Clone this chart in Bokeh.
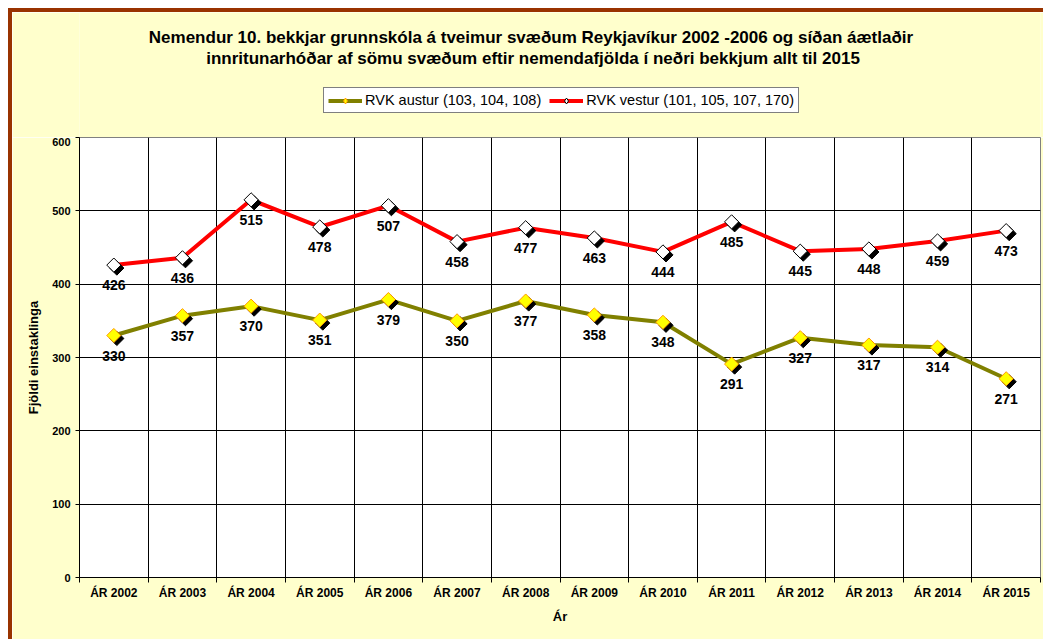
import numpy as np
from bokeh.plotting import figure
from bokeh.layouts import column
from bokeh.models import (Range1d, FixedTicker, Legend, LegendItem, Label,
                          ColumnDataSource)
from bokeh.transform import dodge
from bokeh.core.properties import value
from bokeh.embed import file_html
from bokeh.resources import INLINE

# ---------------- data ----------------
years = ["ÁR 2002", "ÁR 2003", "ÁR 2004", "ÁR 2005", "ÁR 2006", "ÁR 2007",
         "ÁR 2008", "ÁR 2009", "ÁR 2010", "ÁR 2011", "ÁR 2012", "ÁR 2013",
         "ÁR 2014", "ÁR 2015"]
austur = [330, 357, 370, 351, 379, 350, 377, 358, 348, 291, 327, 317, 314, 271]
vestur = [426, 436, 515, 478, 507, 458, 477, 463, 444, 485, 445, 448, 459, 473]
series_names = ["RVK austur (103, 104, 108)", "RVK vestur (101, 105, 107, 170)"]
y_ticks = [0, 100, 200, 300, 400, 500, 600]
title_lines = [
    "Nemendur 10. bekkjar grunnskóla á tveimur svæðum Reykjavíkur 2002 -2006 og síðan áætlaðir",
    "innritunarhóðar af sömu svæðum eftir nemendafjölda í neðri bekkjum allt til 2015",
]
x_title = "Ár"
y_title = "Fjöldi einstaklinga"

FONT = "Liberation Sans"
BG = "#FFFFCC"
A_LINE, A_FILL, A_EDGE = "#808000", "#FFFF00", "#FF9900"
V_LINE, V_FILL, V_EDGE = "#FF0000", "white", "black"

n = len(years)
xs = np.arange(n) + 0.5
bounds = list(range(n + 1))

src = ColumnDataSource(dict(
    x=xs, a=austur, v=vestur,
    a_lbl=[str(v) for v in austur], v_lbl=[str(v) for v in vestur],
))

W = 1031
TOP_H = 125
MAIN_H = 502

# ---------------- header figure: titles + legend ----------------
# (in a column its frame is aligned with the main chart's frame)
top = figure(width=W, height=TOP_H, x_range=Range1d(0, 1), y_range=Range1d(0, 1),
             output_backend="svg", toolbar_location=None, title=None,
             x_axis_location=None, y_axis_location=None,
             min_border_left=67, min_border_right=3, min_border_top=0,
             min_border_bottom=0)
top.grid.visible = False
top.outline_line_color = None
top.background_fill_color = BG
top.border_fill_color = BG

for txt, cx, cy in ((title_lines[0], 451.5, 100), (title_lines[1], 453.5, 79)):
    top.add_layout(Label(x=cx, y=cy, x_units="screen", y_units="screen", text=txt,
                         text_font=FONT, text_font_style="bold",
                         text_font_size="17px", text_color="black",
                         text_align="center", text_baseline="middle"))

# legend proxies: one data point each, outside this header's visible range
proxy = ColumnDataSource(dict(x=[xs[0]], a=[austur[0]], v=[vestur[0]]))
lga = top.line("x", "a", source=proxy, line_color=A_LINE, line_width=4)
lgam = top.scatter("x", "a", source=proxy, marker="diamond", size=14,
                   fill_color=A_FILL, line_color=A_EDGE)
lgv = top.line("x", "v", source=proxy, line_color=V_LINE, line_width=4)
lgvm = top.scatter("x", "v", source=proxy, marker="diamond", size=14,
                   fill_color=V_FILL, line_color=V_EDGE)
legend = Legend(items=[LegendItem(label=series_names[0], renderers=[lga, lgam]),
                       LegendItem(label=series_names[1], renderers=[lgv, lgvm])],
                orientation="horizontal", location=(244, 24),
                label_text_font=FONT, label_text_font_size="14.5px",
                label_text_color="black",
                glyph_width=34, glyph_height=15, label_height=15,
                label_standoff=3, spacing=8, padding=4, margin=0,
                border_line_color="black", border_line_width=1,
                background_fill_color="white", background_fill_alpha=1.0)
top.add_layout(legend, "center")

# ---------------- main chart ----------------
p = figure(width=W, height=MAIN_H, x_range=Range1d(0, n),
           y_range=Range1d(y_ticks[0], y_ticks[-1]),
           output_backend="svg", toolbar_location=None, title=None,
           min_border_left=67, min_border_right=3, min_border_top=0,
           min_border_bottom=62)
p.background_fill_color = "white"
p.border_fill_color = BG
p.outline_line_color = "#808080"

p.xgrid.grid_line_color = None
p.xgrid.minor_grid_line_color = "black"
p.ygrid.grid_line_color = "black"

xa = p.xaxis[0]
xa.ticker = FixedTicker(ticks=list(xs), minor_ticks=bounds)
xa.major_label_overrides = {float(x): yr for x, yr in zip(xs, years)}
xa.major_tick_line_color = None
xa.major_tick_out = 4
xa.minor_tick_in = 0
xa.minor_tick_out = 5
xa.minor_tick_line_color = "black"
xa.major_label_standoff = 3
xa.major_label_text_font = FONT
xa.major_label_text_font_style = "bold"
xa.major_label_text_font_size = "12px"
xa.major_label_text_color = "black"
xa.axis_line_color = "black"
xa.axis_label = x_title
xa.axis_label_text_font = FONT
xa.axis_label_text_font_style = "bold"
xa.axis_label_text_font_size = "13px"
xa.axis_label_text_color = "black"
xa.axis_label_standoff = 6

ya = p.yaxis[0]
ya.ticker = FixedTicker(ticks=y_ticks)
ya.major_tick_in = 0
ya.major_tick_out = 4
ya.major_tick_line_color = "black"
ya.minor_tick_line_color = None
ya.major_label_standoff = 5
ya.major_label_text_font = FONT
ya.major_label_text_font_style = "bold"
ya.major_label_text_font_size = "11px"
ya.major_label_text_color = "black"
ya.axis_line_color = "black"
ya.axis_label = y_title
ya.axis_label_text_font = FONT
ya.axis_label_text_font_style = "bold"
ya.axis_label_text_font_size = "13px"
ya.axis_label_text_color = "black"
ya.axis_label_standoff = 8

p.line("x", "a", source=src, line_color=A_LINE, line_width=4, line_join="round")
p.line("x", "v", source=src, line_color=V_LINE, line_width=4, line_join="round")

dx = 0.044
dy = -4.1
for col in ("a", "v"):
    p.scatter(dodge("x", dx, range=p.x_range), dodge(col, dy, range=p.y_range),
              source=src, marker="square", angle=np.pi / 4, size=10,
              fill_color="black", line_color="black")

p.scatter("x", "a", source=src, marker="square", angle=np.pi / 4, size=10,
          fill_color=A_FILL, line_color=A_EDGE, line_width=1)
p.scatter("x", "v", source=src, marker="square", angle=np.pi / 4, size=10,
          fill_color=V_FILL, line_color=V_EDGE, line_width=1)

for col, lbl in (("a", "a_lbl"), ("v", "v_lbl")):
    p.text("x", col, text=lbl, source=src, text_font=value(FONT),
           text_font_style="bold", text_font_size="14px", text_color="black",
           text_align="center", text_baseline="top", y_offset=15)

layout = column(top, p, spacing=0,
                styles={"margin-left": "8px", "margin-top": "8px",
                        "border-left": "4px solid #993300",
                        "border-top": "4px solid #993300"})

open("out.html", "w").write(file_html(layout, INLINE))
